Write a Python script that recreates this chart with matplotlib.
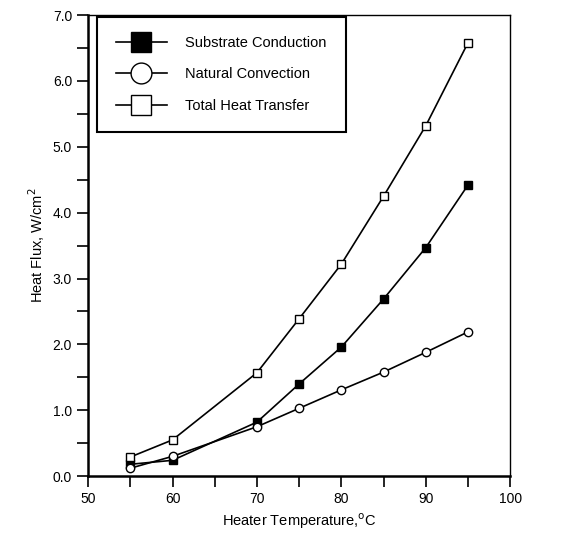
import matplotlib
matplotlib.use("Agg")
import matplotlib.pyplot as plt
from matplotlib.ticker import MultipleLocator, FormatStrFormatter

plt.rcParams['font.family'] = ['Liberation Sans', 'DejaVu Sans']

# Datos
temp = [55, 60, 70, 75, 80, 85, 90, 95]
substrate = [0.18, 0.24, 0.82, 1.40, 1.96, 2.69, 3.47, 4.42]
natural = [0.12, 0.30, 0.75, 1.03, 1.31, 1.58, 1.88, 2.19]
total = [0.29, 0.55, 1.57, 2.39, 3.22, 4.25, 5.32, 6.58]

fig = plt.figure(figsize=(5.72, 5.38), dpi=100)
ax = fig.add_axes([0.154, 0.115, 0.738, 0.857])

ax.plot(temp, substrate, '-s', color='black', mfc='black', ms=6, lw=1.2,
        label='Substrate Conduction')
ax.plot(temp, natural, '-o', color='black', mfc='white', ms=6, lw=1.2,
        label='Natural Convection')
ax.plot(temp, total, '-s', color='black', mfc='white', ms=6, lw=1.2,
        label='Total Heat Transfer')

ax.set_xlim(50, 100)
ax.set_ylim(0, 7)
ax.xaxis.set_major_locator(MultipleLocator(10))
ax.xaxis.set_minor_locator(MultipleLocator(5))
ax.yaxis.set_major_locator(MultipleLocator(1))
ax.yaxis.set_minor_locator(MultipleLocator(0.5))
ax.yaxis.set_major_formatter(FormatStrFormatter('%.1f'))
ax.tick_params(which='both', direction='out', length=8, width=1.2,
               labelsize=10, top=False, right=False)
for s in ax.spines.values():
    s.set_linewidth(1.0)
ax.spines['left'].set_linewidth(1.8)
ax.spines['bottom'].set_linewidth(1.8)

ax.set_xlabel('Heater Temperature,$^{\\rm o}$C', fontsize=10.5)
ax.set_ylabel('Heat Flux, W/cm$^{\\rm 2}$', fontsize=10.5)

leg = ax.legend(loc='upper left', fontsize=10.5, markerscale=2.5, handlelength=3.5,
                borderpad=1.3, labelspacing=1.2, handletextpad=1.25,
                borderaxespad=0, bbox_to_anchor=(0.021, 0.996),
                fancybox=False, edgecolor='black', framealpha=1)
leg.get_frame().set_linewidth(1.5)

plt.savefig('out.png', dpi=100)
